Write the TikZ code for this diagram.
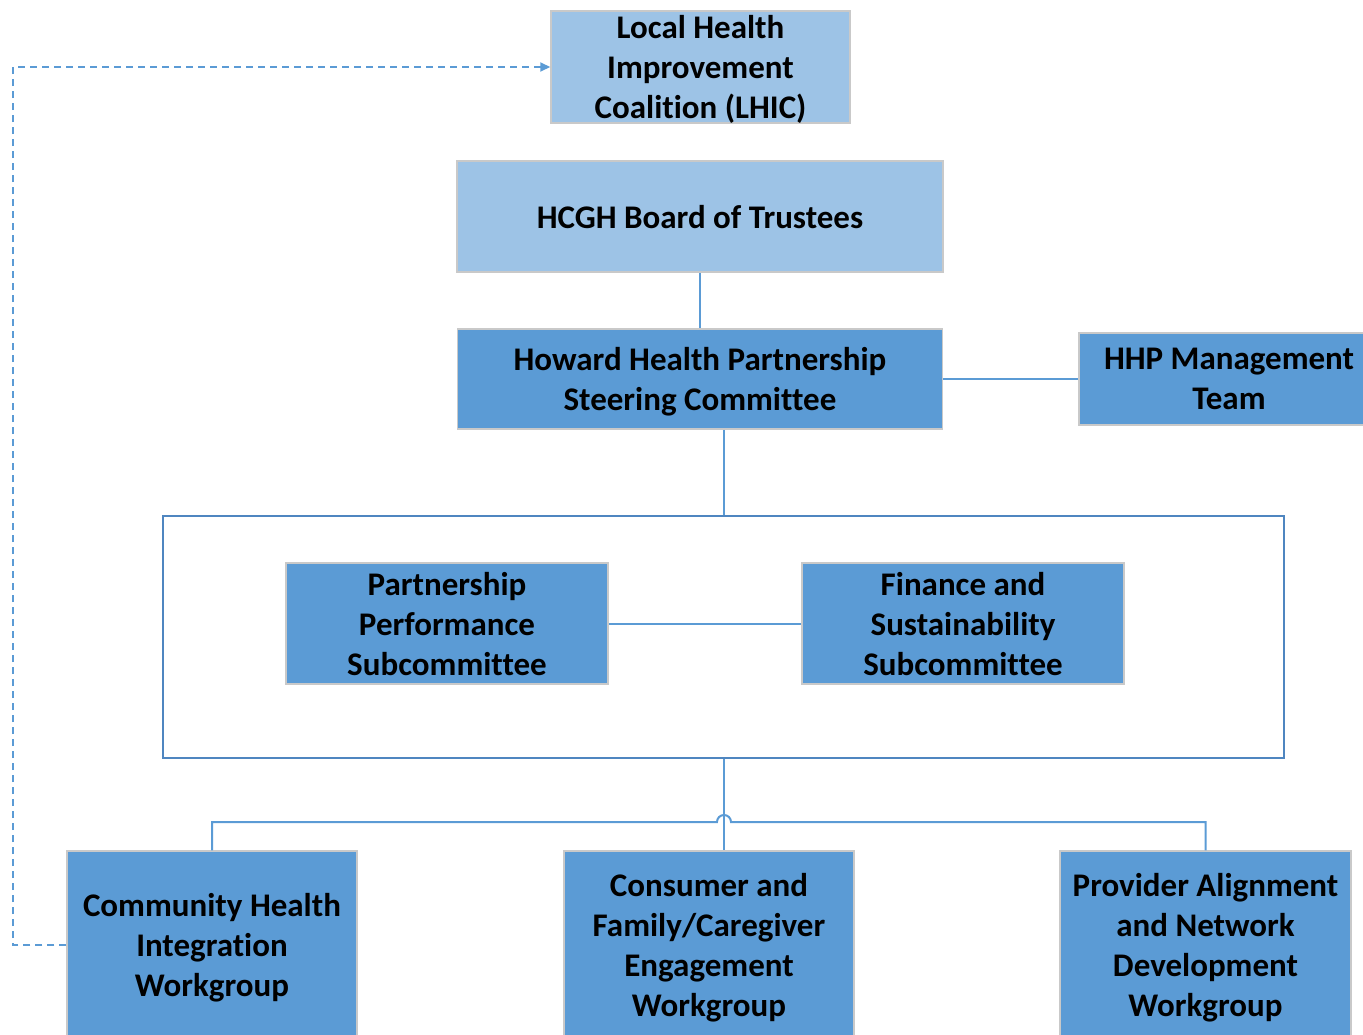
\documentclass[tikz,border=0pt]{standalone}
\usepackage{fontspec}
\setmainfont[Ligatures=NoCommon]{Carlito}
\usetikzlibrary{arrows.meta,calc}

\definecolor{palebox}{HTML}{9DC3E6}
\definecolor{midbox}{HTML}{5B9BD5}
\definecolor{edgegray}{HTML}{C9C9C9}
\definecolor{wire}{HTML}{5B9BD5}
\definecolor{frame}{HTML}{4F86C0}

\begin{document}
\begin{tikzpicture}[x=1pt,y=-1pt,>={Triangle[length=10pt,width=9pt]}]
                \tikzstyle{every node}=[font=\bfseries\fontsize{33}{40}\selectfont,align=center,inner sep=0pt,text depth=0pt]
                \tikzstyle{palebox}=[fill=palebox,draw=edgegray,line width=1.5pt]
                \tikzstyle{midbox}=[fill=midbox,draw=edgegray,line width=1.5pt]
                \tikzstyle{link}=[draw=wire,line width=2pt]
                \tikzstyle{dashlink}=[draw=wire,line width=2pt,dash pattern=on 7pt off 5pt]
                \useasboundingbox (0,0) rectangle (1363,1034);
                \clip (0,0) rectangle (1363,1034);
                % top of the chart
                \node[palebox,minimum width=299pt,minimum height=112pt] (lhic) at (700.5,67) {Local Health\\Improvement\\Coalition (LHIC)};
                \node[palebox,minimum width=486pt,minimum height=111pt] (board) at (700,216.5) {HCGH Board of Trustees};
                \node[midbox,minimum width=485pt,minimum height=100pt] (steer) at (700,379) {Howard Health Partnership\\Steering Committee};
                \node[midbox,minimum width=300pt,minimum height=92pt] (mgmt) at (1229,379) {HHP Management\\Team};
                % subcommittees inside the frame
                \node[draw=frame,line width=2pt,fill=white,minimum width=1121pt,minimum height=242pt] (cont) at (723.5,637) {};
                \node[midbox,minimum width=322pt,minimum height=121pt] (perf) at (447,623.5) {Partnership\\Performance\\Subcommittee};
                \node[midbox,minimum width=322pt,minimum height=121pt] (fin) at (963,623.5) {Finance and\\Sustainability\\Subcommittee};
                % workgroups
                \node[midbox,minimum width=290pt,minimum height=188pt] (comm) at (212,945) {Community Health\\Integration\\Workgroup};
                \node[midbox,minimum width=290pt,minimum height=188pt] (cons) at (709,945) {Consumer and\\Family/Caregiver\\Engagement\\Workgroup};
                \node[midbox,minimum width=291pt,minimum height=188pt] (prov) at (1205.5,945) {Provider Alignment\\and Network\\Development\\Workgroup};
                \coordinate (hub) at (724,0);
                \coordinate (bus) at (0,822);
                % connectors
                \draw[link] (board.south) -- (steer.north);
                \draw[link] (steer.east) -- (mgmt.west);
                \draw[link] (steer.south -| hub) -- (cont.north -| hub);
                \draw[link] (perf.east) -- (fin.west);
                \draw[link] (cont.south -| hub) -- (cons.north -| hub);
                \draw[link] (comm.north) -- (comm.north |- bus) -- ($(hub |- bus)+(-7,0)$) arc[start angle=180,end angle=0,radius=7pt] -- (prov.north |- bus) -- (prov.north);
                \draw[dashlink,->] (comm.west) -- ++(-53,0) |- (lhic.west);
            \end{tikzpicture}
\end{document}
